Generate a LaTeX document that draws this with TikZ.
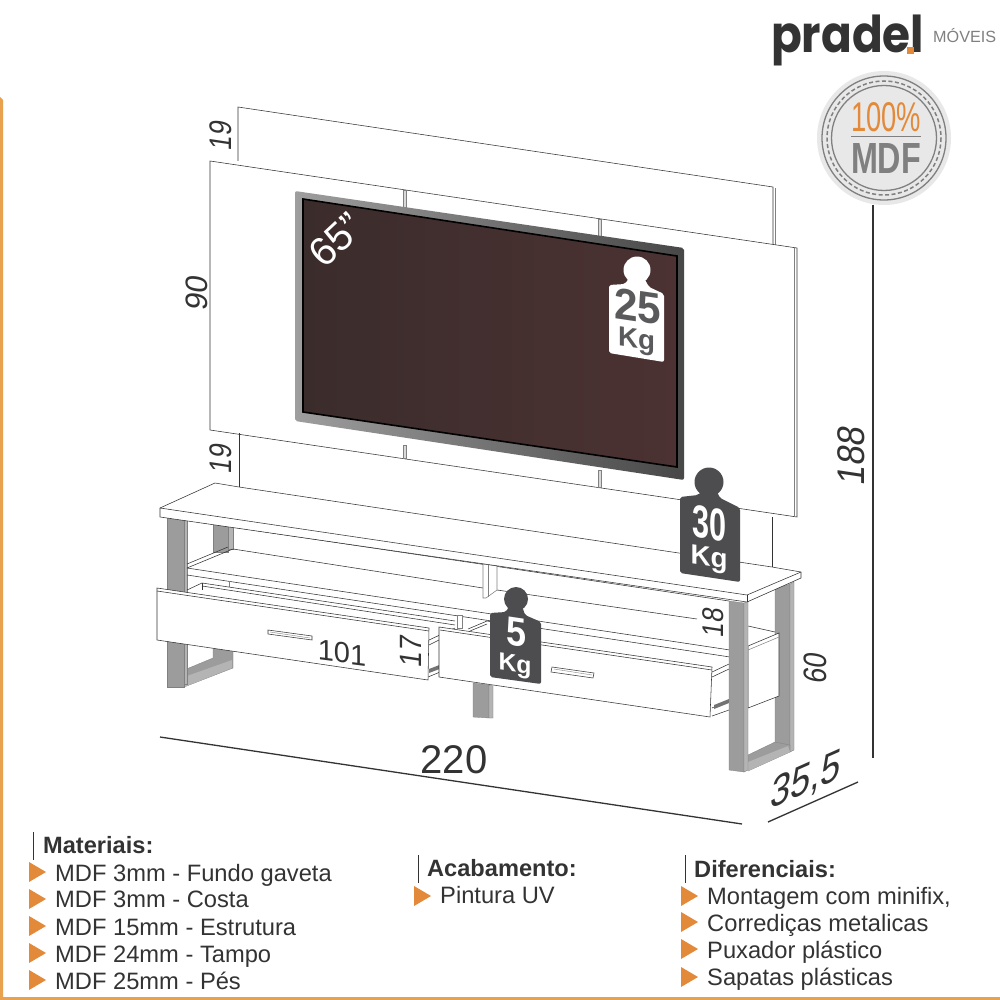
\documentclass[tikz,border=0pt]{standalone}
\usepackage{fontspec}
\setmainfont{Liberation Sans}
\newfontfamily\logofont{Poppins}
\newcommand{\fs}[1]{\fontsize{#1}{#1}\selectfont}
\definecolor{ink}{HTML}{333333}
\definecolor{orng}{HTML}{E2893A}
\definecolor{bord}{HTML}{E8A24F}
\definecolor{postc}{HTML}{9C9C9C}
\definecolor{postl}{HTML}{B4B4B4}
\definecolor{wtc}{HTML}{4D4D4F}
\definecolor{wt2}{HTML}{5A5A5C}
\definecolor{scra}{HTML}{3B2C2C}
\definecolor{scrb}{HTML}{4C3232}
\tikzset{
 ln/.style={draw=ink,line width=.55pt},
 wf/.style={fill=white,draw=ink,line width=.55pt},
 slat/.style={draw=gray,line width=.55pt,fill=black!15},
 post/.style={fill=postc,draw=gray,line width=.3pt},
 sliv/.style={fill=postl,draw=gray,line width=.3pt},
 dim/.style={draw=ink,line width=1.3pt},
 lab/.style={inner sep=0pt,text=ink},
 vlab/.style={inner sep=0pt,text=ink,rotate=90,xslant=.15},
 wtx/.style={inner sep=0pt,yslant=-.15},
 item/.style={inner sep=0pt,anchor=base west,text=ink,font=\fs{23.7}},
 head/.style={inner sep=0pt,anchor=base west,text=ink,font=\fs{23.6}\bfseries},
 bar/.style={draw=ink,line width=1pt},
 tri/.style={fill=orng},
}
\newcommand{\tribul}[2]{\fill[tri] (#1,#2-10) -- (#1+17,#2) -- (#1,#2+10) -- cycle;}
\begin{document}
\begin{tikzpicture}[x=1pt,y=-1pt]
\useasboundingbox (0,0) rectangle (1000,1000);
\fill[white] (0,0) rectangle (1000,1000);
% page border
\fill[bord] (0,97) -- (3,100) -- (3,997) -- (1000,997) -- (1000,1000) -- (0,1000) -- cycle;

% logo
\node[inner sep=0pt,text=ink,anchor=base west,yscale=1.12] (logo) at (771,53) {\resizebox{153pt}{!}{\logofont\bfseries pradel}};
\fill[orng] (907,47) rectangle (914,54);
\node[inner sep=0pt,anchor=west,text=black!50] (moveis) at (933,36) {\resizebox{63pt}{!}{MÓVEIS}};

% badge
\fill[black!9] (884,138) circle (67);
\draw[black!50,line width=1.3pt] (884,138) circle (62);
\draw[black!50,line width=1.3pt] (884,138) circle (52.5);
\draw[black!50,line width=1.5pt,dash pattern=on 4pt off 2.5pt] (884,138) circle (57);
\node[inner sep=0pt,text=orng] (pct) at (886,117) {\resizebox{70pt}{29pt}{100\%}};
\draw[black!50,line width=1pt] (851,136.5) -- (921,136.5);
\node[inner sep=0pt,text=black!50] (mdf) at (886,158) {\resizebox{70pt}{30pt}{\bfseries MDF}};

% panels
\draw[wf] (238,161) -- (238,107) -- (773,187) -- (773,245);
\draw[gray,line width=.5pt] (775,188) -- (775,245);
\draw[wf] (210,161) -- (797,248) -- (797,517) -- (210,430) -- cycle;
\draw[gray,line width=.5pt] (794.5,248) -- (794.5,516);
\draw[slat] (403.5,190) rectangle (406.5,210);
\draw[slat] (598.5,219) rectangle (601.5,240);
\draw[slat] (403.5,445) rectangle (406.5,458);
\draw[slat] (598.5,470) rectangle (601.5,487);

% TV
\shade[left color=black!38,right color=black!72,rounded corners=2pt] (295,191) -- (684,248) -- (684,480) -- (295,421) -- cycle;
\shadedraw[left color=scra,right color=scrb,draw=black,line width=1.6pt] (303,199) -- (677,256) -- (677,467) -- (303,412) -- cycle;
\node[inner sep=0pt,text=white,rotate=43] (inch) at (336,240) {\fs{40}65\symbol{34}};

% lower back panel
\draw[ln] (239,433) -- (239,488);
\draw[ln] (772,517) -- (772,567);

% back legs
\draw[post] (213,523) rectangle (228,552);
\draw[sliv] (228,525) rectangle (233,549);
\draw[post] (213,640) -- (233,640) -- (233,668) -- (184,687) -- (184,670) -- (213,658) -- cycle;
\fill[postl] (184,677) -- (232,660) -- (232,668) -- (184,687) -- cycle;
\draw[post] (775,589) -- (790,584) -- (790,750) -- (775,745) -- cycle;
\draw[sliv] (790,584) -- (794,582) -- (794,750) -- (790,752) -- cycle;
\draw[post] (748,755) -- (775,742) -- (790,745) -- (790,752) -- (748,771) -- cycle;
\fill[postl] (748,762) -- (788,746) -- (790,752) -- (748,771) -- cycle;
\draw[post] (473,683) -- (489,685) -- (489,718) -- (473,717) -- cycle;
\draw[sliv] (489,685) -- (493,686) -- (493,718) -- (489,718) -- cycle;

% front-left leg (behind the drawer)
\draw[post] (167,517) rectangle (184,687);
\draw[sliv] (184,519) rectangle (187,684);

% under-top back line, shelf
\draw[ln] (185,520) -- (729,601);
\draw[ln] (233,549) -- (483,588);
\draw[ln] (497,590) -- (697,619);
\draw[ln] (187,564) -- (228,547);
\draw[ln] (187,568) -- (233,549);
\draw[ln] (187,568) -- (730,650);
\draw[ln] (187,575) -- (730,657);
\draw[slat,fill=white] (483,564) -- (497,566) -- (497,590) -- (486,598) -- (483,598) -- cycle;
\draw[gray,line width=.5pt] (488,565) -- (488,597);
\draw[slat,fill=white] (457,615) rectangle (462,628);
\draw[gray,line width=.5pt] (229,581) -- (229,587);
% right back white panel
\draw[ln] (748,626) -- (775,632);
\draw[wf] (748,646) -- (779,633) -- (779,696) -- (748,708) -- cycle;
\draw[gray,line width=.5pt] (748,650) -- (779,637);

% drawers: left
\draw[ln] (187,590) -- (202,583) -- (455,621);
\draw[ln] (202,586) -- (455,625);
\draw[ln] (202,583) -- (202,590);
\draw[ln] (429,640) -- (455,628);
\draw[ln] (429,645) -- (455,632);
\draw[ln] (428,677) -- (445,670);
\fill[black!55] (429,669) -- (442,664) -- (442,668) -- (429,673) -- cycle;
\draw[wf] (157,588) -- (429,628) -- (428,680) -- (157,640) -- cycle;
\draw[ln] (157,591) -- (429,631);
\draw[wf] (268,630) -- (312,636) -- (312,640) -- (268,634) -- cycle;
\draw[gray,line width=.4pt] (270,632) -- (310,638);
% drawers: right
\draw[ln] (468,629) -- (487,621) -- (493,622);
\draw[ln] (470,631) -- (487,624);
\draw[ln] (712,672) -- (729,664);
\draw[ln] (712,677) -- (729,669);
\draw[ln] (712,708) -- (729,700);
\fill[black!55] (714,705) -- (729,699) -- (729,703) -- (714,709) -- cycle;
\draw[ln] (712,716) -- (729,710);
\draw[wf] (439,627) -- (712,667) -- (710,717) -- (439,677) -- cycle;
\draw[ln] (440,630) -- (712,670);
\draw[wf] (552,667) -- (594,673) -- (593,678) -- (551,672) -- cycle;
\draw[gray,line width=.4pt] (554,669) -- (592,675);

% front-right leg
\draw[post] (729,601) -- (744,603) -- (744,772) -- (729,770) -- cycle;
\draw[sliv] (744,603) -- (748,601) -- (748,770) -- (744,772) -- cycle;

% tabletop
\draw[wf,line join=round] (160,508) -- (215,483) -- (239,487) -- (772,567) -- (801,572) -- (801,578) -- (747,602) -- (160,517) -- cycle;
\draw[ln] (160,508) -- (747,595) -- (801,572);
\draw[ln] (747,595) -- (747,602);

% weights
\fill[white] (637,270) circle (13.5);
\fill[white,rounded corners=2pt] (609,285) -- (625,284) -- (629,278) -- (644,278) -- (649,287) -- (664,294) -- (664,362) -- (609,353) -- cycle;
\node[wtx,text=wt2] (w25) at (637.5,306.5) {\resizebox{47pt}{31pt}{\bfseries 25}};
\node[wtx,text=wt2,anchor=base] (k25) at (636.5,348) {\resizebox{37pt}{!}{\bfseries Kg}};

\fill[wtc] (709,482) circle (14.5);
\fill[wtc,rounded corners=2pt] (680,497) -- (698,495) -- (703,490) -- (716,490) -- (720,498) -- (740,508) -- (740,582) -- (680,573) -- cycle;
\node[wtx,text=white] (w30) at (709.5,523.5) {\resizebox{34pt}{32pt}{\bfseries 30}};
\node[wtx,text=white,anchor=base] (k30) at (709,566) {\resizebox{37pt}{!}{\bfseries Kg}};

\fill[wtc] (516,599) circle (12);
\fill[wtc,rounded corners=2pt] (490,613) -- (506,612) -- (509,606) -- (522,606) -- (525,615) -- (541,622) -- (541,684) -- (490,677) -- cycle;
\node[wtx,text=white] (w5) at (516,632.5) {\resizebox{20pt}{28pt}{\bfseries 5}};
\node[wtx,text=white,anchor=base] (k5) at (515,672) {\resizebox{33pt}{!}{\bfseries Kg}};

% dimension lines
\draw[dim] (873,205) -- (873,758);
\draw[dim] (160,737) -- (742,824);
\draw[dim] (768,822) -- (858,782);

% dimension labels
\node[vlab,yscale=1.2] (d19a) at (221,135) {\fs{26}19};
\node[vlab] (d90) at (197,293) {\fs{31}90};
\node[vlab,yscale=1.2] (d19b) at (221,458) {\fs{26}19};
\node[vlab,yscale=1.1] (d188) at (851,455) {\fs{35}188};
\node[vlab,yscale=1.1] (d17) at (411,651) {\fs{28}17};
\node[vlab,yscale=1.15] (d18) at (713,622) {\fs{26}18};
\node[vlab,yscale=1.2] (d60) at (815,668) {\fs{27}60};
\node[lab,yslant=-.13] (d101) at (342,653) {\fs{29}101};
\node[lab] (d220) at (454,760) {\fs{40}220};
\node[lab,rotate=24,xslant=.6] (d355) at (806,781) {\fs{39}35,5};

% text blocks
\draw[bar] (33,832) -- (33,860);
\node[head] (h1) at (43,853) {Materiais:};
\foreach \n/\y/\b/\t in {a/872/881/MDF 3mm - Fundo gaveta,b/899/907/MDF 3mm - Costa,c/926/935/MDF 15mm - Estrutura,d/953/962/MDF 24mm - Tampo,e/980/989/MDF 25mm - Pés}{
  \tribul{29}{\y}
  \node[item] (m\n) at (55,\b) {\t};
}
\draw[bar] (418,855) -- (418,883);
\node[head] (h2) at (427,876) {Acabamento:};
\tribul{414}{896}
\node[item] (p1) at (440,903) {Pintura UV};
\draw[bar] (685,855) -- (685,883);
\node[head] (h3) at (694,877) {Diferenciais:};
\foreach \n/\y/\b/\t in {a/896/904/{Montagem com minifix,},b/922/931/Corrediças metalicas,c/949/958/Puxador plástico,d/977/985/Sapatas plásticas}{
  \tribul{681}{\y}
  \node[item] (q\n) at (707,\b) {\t};
}
\end{tikzpicture}
\end{document}
